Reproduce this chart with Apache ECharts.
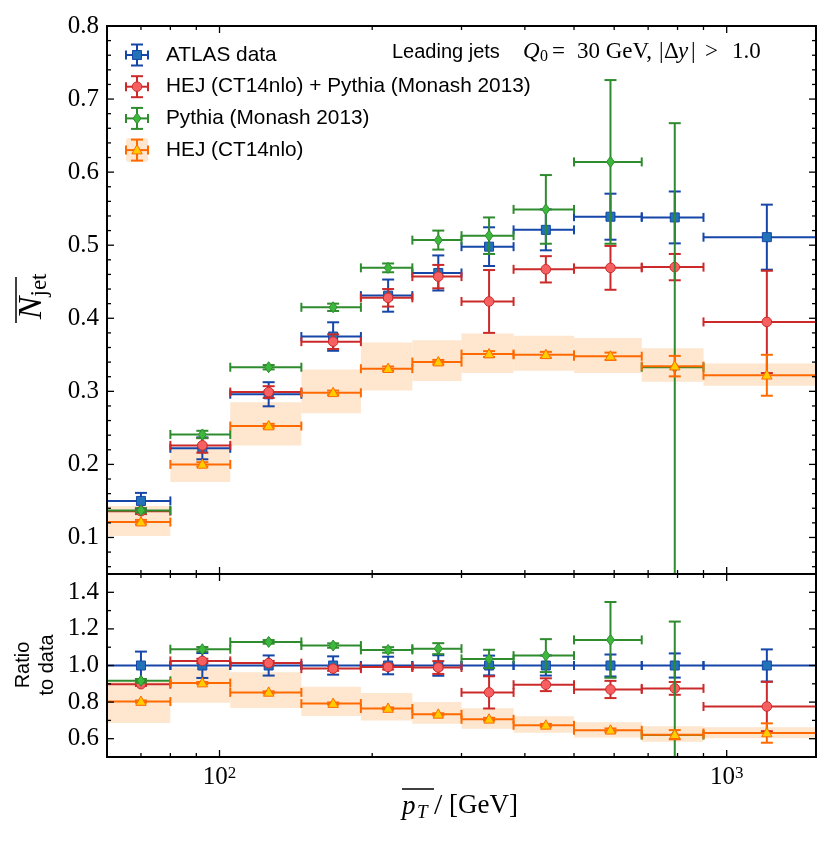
<!DOCTYPE html>
<html><head><meta charset="utf-8">
<script src="https://cdn.jsdelivr.net/npm/echarts@6/dist/echarts.min.js"></script>
<style>html,body{margin:0;padding:0;background:#fff}#c{width:831px;height:844px}</style>
</head><body><div id="c"></div>
<script>
// ---------- data ----------
const binEdges   = [60, 80, 105, 145, 190, 240, 300, 380, 500, 680, 900, 1500];
const binCenters = [70, 92.5, 125, 167.5, 215, 270, 340, 440, 590, 790, 1200];

const atlasVal  = [0.150, 0.222, 0.296, 0.375, 0.431, 0.462, 0.498, 0.521, 0.539, 0.538, 0.511];
const atlasErr  = [0.011, 0.015, 0.0165, 0.0195, 0.022, 0.024, 0.0265, 0.028, 0.0315, 0.0355, 0.0445];
const hejPyVal  = [0.136, 0.226, 0.299, 0.368, 0.428, 0.457, 0.423, 0.467, 0.469, 0.470, 0.395];
const hejPyErr  = [0.004, 0.010, 0.008, 0.010, 0.012, 0.016, 0.043, 0.018, 0.030, 0.018, 0.070];
const pythiaVal = [0.137, 0.241, 0.333, 0.415, 0.469, 0.507, 0.513, 0.549, 0.614, 0.333];
const pythiaErr = [0.003, 0.005, 0.003, 0.005, 0.006, 0.013, 0.025, 0.047, 0.112, 0.334];
const hejVal    = [0.121, 0.200, 0.2525, 0.298, 0.331, 0.340, 0.351, 0.350, 0.348, 0.3345, 0.322];
const hejErr    = [0.003, 0.003, 0.003, 0.003, 0.003, 0.003, 0.004, 0.004, 0.005, 0.014, 0.028];
const hejBandLo = [0.102, 0.176, 0.226, 0.270, 0.301, 0.314, 0.325, 0.328, 0.325, 0.313, 0.3075];
const hejBandHi = [0.143, 0.221, 0.285, 0.330, 0.367, 0.370, 0.379, 0.376, 0.373, 0.359, 0.338];

const atlasRatio     = [1, 1, 1, 1, 1, 1, 1, 1, 1, 1, 1];
const atlasRatioErr  = [0.076, 0.068, 0.055, 0.050, 0.048, 0.056, 0.054, 0.055, 0.060, 0.066, 0.088];
const hejPyRatio     = [0.898, 1.025, 1.013, 0.983, 0.992, 0.989, 0.853, 0.895, 0.869, 0.875, 0.776];
const hejPyRatioErr  = [0.010, 0.012, 0.012, 0.012, 0.014, 0.035, 0.088, 0.035, 0.047, 0.035, 0.135];
const pythiaRatio    = [0.916, 1.089, 1.129, 1.109, 1.085, 1.092, 1.036, 1.054, 1.140, 0.620];
const pythiaRatioErr = [0.010, 0.012, 0.010, 0.012, 0.015, 0.030, 0.050, 0.090, 0.207, 0.620];
const hejRatio       = [0.803, 0.904, 0.853, 0.792, 0.765, 0.733, 0.706, 0.673, 0.646, 0.622, 0.631];
const hejRatioErr    = [0.006, 0.006, 0.006, 0.006, 0.006, 0.006, 0.008, 0.008, 0.010, 0.025, 0.053];
const hejRatioBandLo = [0.686, 0.796, 0.768, 0.724, 0.700, 0.682, 0.655, 0.633, 0.606, 0.584, 0.603];
const hejRatioBandHi = [0.910, 0.989, 0.963, 0.884, 0.850, 0.800, 0.766, 0.723, 0.690, 0.668, 0.662];

const xMajorTicks = [100, 1000];
const xMinorTicks = [70, 80, 90, 200, 300, 400, 500, 600, 700, 800, 900];
const mainYMajor  = [0.1, 0.2, 0.3, 0.4, 0.5, 0.6, 0.7, 0.8];
const ratioYMajor = [0.6, 0.8, 1.0, 1.2, 1.4];
const ratioYMinor = [0.7, 0.9, 1.1, 1.3];
const mainYMinor = [];
for (let k = 3; k < 40; k++) if (k % 5 !== 0) mainYMinor.push(k / 50);

const legendNames = ['ATLAS data', 'HEJ (CT14nlo) + Pythia (Monash 2013)', 'Pythia (Monash 2013)', 'HEJ (CT14nlo)'];

// ---------- styles ----------
const ST = {
  atlas:  {line: '#1546a8', fill: '#2272b8', stroke: '#1546a8', kind: 'square'},
  hejPy:  {line: '#cc2a2a', fill: '#f76060', stroke: '#cc2a2a', kind: 'circle'},
  pythia: {line: '#2e8b2e', fill: '#3cb83c', stroke: '#2e8b2e', kind: 'diamond'},
  hej:    {line: '#ff6a00', fill: '#ffcc00', stroke: '#ff6a00', kind: 'triangle'}
};
const BAND = '#fee6cf';
const SERIF = '"Liberation Serif", "DejaVu Serif", serif';
const SANS = '"Liberation Sans", Arial, sans-serif';

function markerShape(kind, cx, cy, fill, stroke) {
  const style = {fill: fill, stroke: stroke, lineWidth: 1};
  if (kind === 'square') return {type: 'rect', shape: {x: cx - 4.5, y: cy - 4.5, width: 9, height: 9}, style};
  if (kind === 'circle') return {type: 'circle', shape: {cx: cx, cy: cy, r: 4.8}, style};
  if (kind === 'diamond') return {type: 'polygon', shape: {points: [[cx, cy - 5.5], [cx + 4, cy], [cx, cy + 5.5], [cx - 4, cy]]}, style};
  return {type: 'polygon', shape: {points: [[cx, cy - 5.5], [cx + 5.2, cy + 3.8], [cx - 5.2, cy + 3.8]]}, style};
}

function ebData(vals, errs) {
  return vals.map((v, i) => [binEdges[i], binEdges[i + 1], binCenters[i], v, v - errs[i], v + errs[i]]);
}
function bandData(lo, hi) {
  return lo.map((v, i) => [binEdges[i], binEdges[i + 1], binCenters[i], v, hi[i]]);
}

function errRender(st) {
  const capW = 6, capH = 4.5, lw = 2;
  return function (params, api) {
    const cs = params.coordSys;
    const X0 = cs.x, X1 = cs.x + cs.width, Y0 = cs.y, Y1 = cs.y + cs.height;
    const cx = v => Math.max(X0, Math.min(X1, v));
    const cy = v => Math.max(Y0, Math.min(Y1, v));
    const y = api.value(3);
    const c = api.coord([api.value(2), y]);
    const l = api.coord([api.value(0), y]);
    const r = api.coord([api.value(1), y]);
    const pHi = api.coord([api.value(2), api.value(5)]);
    const pLo = api.coord([api.value(2), api.value(4)]);
    const ls = {stroke: st.line, lineWidth: lw};
    const ch = [];
    ch.push({type: 'line', shape: {x1: cx(l[0]), y1: c[1], x2: cx(r[0]), y2: c[1]}, style: ls});
    [l[0], r[0]].forEach(x => {
      if (x >= X0 - 0.5 && x <= X1 + 0.5) ch.push({type: 'line', shape: {x1: x, y1: c[1] - capH, x2: x, y2: c[1] + capH}, style: ls});
    });
    ch.push({type: 'line', shape: {x1: c[0], y1: cy(pHi[1]), x2: c[0], y2: cy(pLo[1])}, style: ls});
    if (pHi[1] >= Y0) ch.push({type: 'line', shape: {x1: c[0] - capW, y1: pHi[1], x2: c[0] + capW, y2: pHi[1]}, style: ls});
    if (pLo[1] <= Y1) ch.push({type: 'line', shape: {x1: c[0] - capW, y1: pLo[1], x2: c[0] + capW, y2: pLo[1]}, style: ls});
    ch.push(markerShape(st.kind, c[0], c[1], st.fill, st.stroke));
    return {type: 'group', children: ch};
  };
}

function bandRender(params, api) {
  const a = api.coord([api.value(0), api.value(4)]);
  const b = api.coord([api.value(1), api.value(3)]);
  return {type: 'rect', shape: {x: a[0], y: a[1], width: b[0] - a[0], height: b[1] - a[1]}, style: {fill: BAND}};
}

function tickRender(params, api) {
  const cs = params.coordSys;
  const p = api.coord([api.value(0), api.value(1)]);
  const len = api.value(2);
  const st = {stroke: '#000', lineWidth: 1.3};
  if (api.value(3) === 0) {
    return {type: 'group', children: [
      {type: 'line', shape: {x1: p[0], y1: cs.y + cs.height, x2: p[0], y2: cs.y + cs.height - len}, style: st},
      {type: 'line', shape: {x1: p[0], y1: cs.y, x2: p[0], y2: cs.y + len}, style: st}
    ]};
  }
  return {type: 'group', children: [
    {type: 'line', shape: {x1: cs.x, y1: p[1], x2: cs.x + len, y2: p[1]}, style: st},
    {type: 'line', shape: {x1: cs.x + cs.width, y1: p[1], x2: cs.x + cs.width - len, y2: p[1]}, style: st}
  ]};
}

function tickData(yMin, yMajor, yMinor) {
  return [].concat(
    xMajorTicks.map(v => [v, yMin, 7, 0]),
    xMinorTicks.map(v => [v, yMin, 4, 0]),
    yMajor.map(v => [60, v, 7, 1]),
    yMinor.map(v => [60, v, 4, 1])
  );
}

function ebSeries(name, st, vals, errs, gi) {
  return {name: name, type: 'custom', xAxisIndex: gi, yAxisIndex: gi, z: 3,
    renderItem: errRender(st), encode: {x: 2, y: 3}, data: ebData(vals, errs)};
}

// ---------- chart ----------
const chart = echarts.init(document.getElementById('c'), null, {renderer: 'canvas'});

const axisCommon = {
  axisLine: {show: false}, axisTick: {show: false}, splitLine: {show: false}, minorTick: {show: false}
};

// legend graphic
const legendY0 = 55, legendDY = 31.7, legendX = 137;
const legendKeys = ['atlas', 'hejPy', 'pythia', 'hej'];
const legendEls = [];
legendKeys.forEach((k, i) => {
  const st = ST[k];
  const y = legendY0 + i * legendDY;
  const ls = {stroke: st.line, lineWidth: 2};
  if (k === 'hej') legendEls.push({type: 'rect', shape: {x: legendX - 11, y: y - 12, width: 22, height: 24, r: 3}, style: {fill: BAND}});
  legendEls.push({type: 'line', shape: {x1: legendX - 11, y1: y, x2: legendX + 11, y2: y}, style: ls});
  legendEls.push({type: 'line', shape: {x1: legendX - 11, y1: y - 4.5, x2: legendX - 11, y2: y + 4.5}, style: ls});
  legendEls.push({type: 'line', shape: {x1: legendX + 11, y1: y - 4.5, x2: legendX + 11, y2: y + 4.5}, style: ls});
  legendEls.push({type: 'line', shape: {x1: legendX, y1: y - 10.5, x2: legendX, y2: y + 10.5}, style: ls});
  legendEls.push({type: 'line', shape: {x1: legendX - 6, y1: y - 10.5, x2: legendX + 6, y2: y - 10.5}, style: ls});
  legendEls.push({type: 'line', shape: {x1: legendX - 6, y1: y + 10.5, x2: legendX + 6, y2: y + 10.5}, style: ls});
  legendEls.push(markerShape(st.kind, legendX, y, st.fill, st.stroke));
  legendEls.push({type: 'text', x: 166, y: y, style: {text: legendNames[i], font: '20.8px ' + SANS, fill: '#000', align: 'left', verticalAlign: 'middle'}});
});

// annotation pieces: [text, x, italic, size, dy]
const annotParts = [
  ['Q', 523, true, 23, 0], ['0', 540, false, 16, 5], ['=', 552, false, 23, 0], ['30 GeV,', 577, false, 23, 0],
  ['|', 659, false, 23, 0], ['Δ', 664, false, 23, 0], ['y', 678, true, 23, 0], ['|', 691, false, 23, 0],
  ['>', 705, false, 23, 0], ['1.0', 732, false, 23, 0]
];
const annotEls = annotParts.map(p => ({type: 'text', x: p[1], y: 52 + p[4],
  style: {text: p[0], font: (p[2] ? 'italic ' : '') + p[3] + 'px ' + SERIF, fill: '#000', align: 'left', verticalAlign: 'middle'}}));

const option = {
  animation: false,
  backgroundColor: '#fff',
  grid: [
    {left: 107, top: 26, width: 709, height: 548, show: true, borderColor: '#000', borderWidth: 2, backgroundColor: 'transparent', z: 10},
    {left: 107, top: 574, width: 709, height: 183, show: true, borderColor: '#000', borderWidth: 2, backgroundColor: 'transparent', z: 10}
  ],
  xAxis: [
    Object.assign({gridIndex: 0, type: 'log', logBase: 10, min: 60, max: 1500, axisLabel: {show: false}}, axisCommon),
    Object.assign({gridIndex: 1, type: 'log', logBase: 10, min: 60, max: 1500,
      axisLabel: {show: true, margin: 8, showMinLabel: false, showMaxLabel: false,
        formatter: function (v) {
          const e = Math.log10(v), r = Math.round(e);
          if (Math.abs(e - r) < 1e-6 && (r === 2 || r === 3)) return '{b|10}{s|' + r + '}';
          return '';
        },
        rich: {b: {fontFamily: SERIF, fontSize: 25, color: '#000'}, s: {fontFamily: SERIF, fontSize: 17, color: '#000', verticalAlign: 'top'}}
      }}, axisCommon)
  ],
  yAxis: [
    Object.assign({gridIndex: 0, type: 'value', min: 0.05, max: 0.8, interval: 0.05,
      axisLabel: {margin: 8, fontFamily: SERIF, fontSize: 25, color: '#000',
        formatter: function (v) { const k = Math.round(v * 100); return k % 10 === 0 ? (k / 100).toFixed(1) : ''; }}}, axisCommon),
    Object.assign({gridIndex: 1, type: 'value', min: 0.5, max: 1.5, interval: 0.1,
      axisLabel: {margin: 8, fontFamily: SERIF, fontSize: 25, color: '#000',
        formatter: function (v) { const k = Math.round(v * 10); return (k % 2 === 0 && k >= 6 && k <= 14) ? (k / 10).toFixed(1) : ''; }}}, axisCommon)
  ],
  series: [
    {name: 'HEJ band', type: 'custom', xAxisIndex: 0, yAxisIndex: 0, z: 1, renderItem: bandRender, encode: {x: 2, y: 3}, data: bandData(hejBandLo, hejBandHi)},
    {name: 'HEJ band ratio', type: 'custom', xAxisIndex: 1, yAxisIndex: 1, z: 1, renderItem: bandRender, encode: {x: 2, y: 3}, data: bandData(hejRatioBandLo, hejRatioBandHi)},
    ebSeries(legendNames[0], ST.atlas, atlasVal, atlasErr, 0),
    ebSeries(legendNames[1], ST.hejPy, hejPyVal, hejPyErr, 0),
    ebSeries(legendNames[2], ST.pythia, pythiaVal, pythiaErr, 0),
    ebSeries(legendNames[3], ST.hej, hejVal, hejErr, 0),
    ebSeries(legendNames[0] + ' ratio', ST.atlas, atlasRatio, atlasRatioErr, 1),
    ebSeries(legendNames[1] + ' ratio', ST.hejPy, hejPyRatio, hejPyRatioErr, 1),
    ebSeries(legendNames[2] + ' ratio', ST.pythia, pythiaRatio, pythiaRatioErr, 1),
    ebSeries(legendNames[3] + ' ratio', ST.hej, hejRatio, hejRatioErr, 1),
    {name: 'ticks main', type: 'custom', xAxisIndex: 0, yAxisIndex: 0, z: 12, renderItem: tickRender, encode: {x: 0, y: 1}, data: tickData(0.05, mainYMajor, mainYMinor)},
    {name: 'ticks ratio', type: 'custom', xAxisIndex: 1, yAxisIndex: 1, z: 12, renderItem: tickRender, encode: {x: 0, y: 1}, data: tickData(0.5, ratioYMajor, ratioYMinor)}
  ],
  graphic: {elements: [
    {type: 'group', children: legendEls},
    {type: 'text', x: 392, y: 52, style: {text: 'Leading jets', font: '20px ' + SANS, fill: '#000', align: 'left', verticalAlign: 'middle'}},
    {type: 'group', children: annotEls},
    // y title main: N-bar jet
    {type: 'text', x: 32, y: 308, rotation: Math.PI / 2, style: {text: 'N', font: 'italic 34px ' + SERIF, fill: '#000', align: 'center', verticalAlign: 'middle'}},
    {type: 'text', x: 40, y: 285, rotation: Math.PI / 2, style: {text: 'jet', font: '23px ' + SERIF, fill: '#000', align: 'center', verticalAlign: 'middle'}},
    {type: 'line', shape: {x1: 16, y1: 277, x2: 16, y2: 323}, style: {stroke: '#000', lineWidth: 1.5}},
    // ratio title
    {type: 'text', x: 35, y: 665, rotation: Math.PI / 2, style: {text: 'Ratio\nto data', font: '20px ' + SANS, fill: '#000', align: 'center', verticalAlign: 'middle', lineHeight: 24}},
    // x title: p_T-bar / [GeV]
    {type: 'text', x: 402, y: 807, style: {text: 'p', font: 'italic 27px ' + SERIF, fill: '#000', align: 'left', verticalAlign: 'middle'}},
    {type: 'text', x: 417, y: 813, style: {text: 'T', font: 'italic 19px ' + SERIF, fill: '#000', align: 'left', verticalAlign: 'middle'}},
    {type: 'text', x: 434, y: 806, style: {text: '/', font: '30px ' + SERIF, fill: '#000', align: 'left', verticalAlign: 'middle'}},
    {type: 'text', x: 449, y: 806, style: {text: '[GeV]', font: '27px ' + SERIF, fill: '#000', align: 'left', verticalAlign: 'middle'}},
    {type: 'line', shape: {x1: 402, y1: 789, x2: 434, y2: 789}, style: {stroke: '#000', lineWidth: 1.5}}
  ]}
};
chart.setOption(option);
</script>
</body></html>
